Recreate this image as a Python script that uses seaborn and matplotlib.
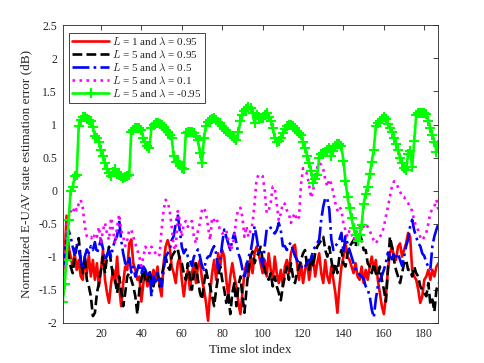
import numpy as np
import pandas as pd
import seaborn as sns
import matplotlib
matplotlib.use("Agg")
import matplotlib.pyplot as plt

# ---------------- data ----------------
slots = list(range(1, 188))

green = [-1.69, -1.42, -1.05, -0.45, 0.00, 0.05, 0.22, 0.24, 0.98, 1.07,
         1.11, 1.11, 1.09, 1.07, 1.05, 0.96, 0.83, 0.80, 0.73, 0.61,
         0.53, 0.42, 0.33, 0.27, 0.22, 0.28, 0.32, 0.25, 0.23, 0.22,
         0.19, 0.20, 0.22, 0.24, 0.88, 0.91, 0.94, 0.95, 0.95, 0.92,
         0.80, 0.73, 0.68, 0.65, 0.95, 1.00, 1.02, 1.02, 1.01, 0.99,
         0.96, 0.92, 0.88, 0.84, 0.80, 0.52, 0.43, 0.44, 0.38, 0.34,
         0.32, 0.87, 0.89, 0.88, 0.88, 0.87, 0.83, 0.76, 0.57, 0.42,
         0.80, 0.98, 1.04, 1.07, 1.09, 1.10, 1.07, 1.04, 1.02, 0.97,
         0.93, 0.90, 0.88, 0.85, 0.83, 0.79, 0.77, 0.88, 1.05, 1.15,
         1.20, 1.24, 1.26, 1.25, 1.17, 1.02, 1.14, 1.12, 1.10, 1.10,
         1.14, 1.17, 1.12, 1.06, 0.95, 0.80, 0.74, 0.75, 0.80, 0.87,
         0.93, 0.97, 0.99, 1.00, 0.98, 0.95, 0.90, 0.87, 0.84, 0.74,
         0.64, 0.53, 0.42, 0.30, 0.12, 0.17, 0.24, 0.50, 0.55, 0.57,
         0.59, 0.62, 0.65, 0.53, 0.60, 0.67, 0.71, 0.70, 0.67, 0.45,
         0.15, -0.10, -0.27, -0.42, -0.57, -0.68, -0.76, -0.68, -0.52, -0.20,
         -0.05, 0.06, 0.25, 0.43, 0.62, 0.97, 1.02, 1.05, 1.09, 1.11,
         1.08, 1.01, 0.95, 0.88, 0.80, 0.71, 0.62, 0.50, 0.42, 0.34,
         0.31, 0.55, 0.60, 0.35, 0.75, 1.14, 1.17, 1.18, 1.18, 1.17,
         1.16, 1.06, 0.95, 0.84, 0.74, 0.59, 0.69]

red = [-1.30, -1.00, -0.38, -0.85, -1.00, -1.15, -0.95, -1.20, -1.05, -1.30,
       -1.35, -1.00, -1.25, -0.98, -1.30, -1.05, -1.35, -1.10, -1.45, -1.20,
       -0.90, -1.35, -1.55, -1.70, -1.40, -1.20, -1.40, -1.00, -1.45, -1.75,
       -1.40, -1.15, -1.20, -0.80, -0.74, -1.10, -1.20, -1.35, -1.30, -1.68,
       -1.40, -1.25, -1.45, -1.30, -1.40, -1.20, -1.35, -1.15, -1.45, -1.60,
       -1.10, -0.85, -0.75, -0.85, -1.15, -1.25, -1.40, -1.10, -1.00, -1.35,
       -1.60, -1.35, -1.20, -1.50, -1.25, -1.10, -1.40, -1.15, -1.05, -1.35,
       -1.50, -1.70, -1.97, -1.55, -1.25, -1.05, -1.35, -0.95, -1.15, -0.90,
       -1.00, -1.35, -1.60, -1.30, -1.10, -1.30, -1.45, -1.70, -1.87, -1.55,
       -1.25, -1.10, -1.30, -1.00, -1.25, -0.95, -0.85, -0.95, -1.10, -1.25,
       -1.05, -1.30, -0.95, -1.20, -1.35, -1.00, -1.25, -1.40, -1.20, -1.45,
       -1.15, -1.05, -1.25, -0.95, -0.85, -0.82, -1.10, -1.35, -1.10, -1.40,
       -1.20, -1.05, -1.35, -1.15, -1.00, -1.30, -1.10, -0.95, -1.25, -1.40,
       -1.05, -1.30, -1.40, -1.15, -1.35, -1.55, -1.85, -1.45, -1.15, -1.00,
       -0.80, -1.00, -1.05, -1.15, -1.25, -1.10, -1.30, -1.35, -1.15, -1.40,
       -1.20, -1.35, -1.15, -1.00, -1.20, -1.05, -1.35, -1.55, -1.75, -1.87,
       -1.60, -1.20, -0.95, -0.85, -1.00, -1.05, -0.85, -0.80, -1.00, -0.90,
       -0.80, -0.64, -0.70, -1.20, -1.30, -1.35, -1.50, -1.70, -1.60, -1.35,
       -1.30, -1.20, -1.35, -1.20, -1.30, -1.15, -1.10]

black = [-1.10, -0.95, -0.80, -1.00, -1.15, -1.25, -1.00, -0.85, -0.72, -1.05,
         -1.25, -1.00, -1.35, -1.45, -1.60, -1.90, -1.85, -1.55, -1.40, -1.20,
         -1.00, -1.25, -1.00, -0.85, -1.10, -1.30, -1.35, -1.55, -1.30, -1.50,
         -1.75, -1.55, -1.30, -1.25, -1.35, -1.45, -1.60, -1.87, -1.50, -1.35,
         -1.20, -1.35, -1.40, -1.20, -1.35, -1.45, -1.30, -1.25, -1.45, -1.30,
         -1.15, -1.00, -1.15, -1.20, -1.00, -0.95, -0.90, -0.88, -1.05, -1.10,
         -1.25, -1.35, -1.10, -1.30, -1.50, -1.25, -1.10, -1.35, -1.55, -1.65,
         -1.40, -1.20, -1.35, -1.45, -1.60, -1.75, -1.50, -1.30, -1.15, -1.35,
         -1.50, -1.70, -1.55, -1.87, -1.55, -1.40, -1.75, -1.45, -1.30, -1.60,
         -1.85, -1.50, -1.20, -1.00, -0.92, -1.10, -1.00, -0.95, -0.85, -1.05,
         -1.20, -1.30, -1.35, -1.25, -1.45, -1.30, -1.45, -1.55, -1.66, -1.45,
         -1.30, -1.15, -1.35, -1.10, -1.30, -1.40, -1.25, -1.15, -1.05, -0.95,
         -0.90, -1.15, -1.20, -1.00, -1.15, -0.95, -0.85, -0.80, -0.75, -0.70,
         -0.90, -1.00, -0.85, -1.05, -1.25, -1.10, -1.25, -1.00, -0.90, -1.10,
         -1.15, -0.95, -0.85, -0.80, -0.75, -0.85, -0.70, -0.64, -0.75, -0.90,
         -0.90, -1.10, -1.15, -1.25, -1.10, -1.25, -1.30, -1.15, -1.35, -1.50,
         -1.68, -1.20, -0.70, -0.85, -1.05, -1.20, -1.30, -1.40, -1.25, -1.10,
         -1.05, -1.20, -1.20, -1.30, -1.15, -1.25, -1.30, -1.45, -1.50, -1.55,
         -1.60, -1.40, -1.72, -1.65, -1.83, -1.50, -1.40]

blue = [-1.20, -1.00, -0.75, -0.60, -0.70, -0.85, -0.97, -0.80, -0.90, -1.05,
        -1.19, -1.00, -0.89, -0.95, -0.84, -0.90, -0.78, -0.95, -0.85, -0.74,
        -0.88, -1.05, -0.99, -0.90, -1.00, -0.85, -0.75, -0.69, -0.44, -0.75,
        -0.95, -1.10, -1.14, -1.00, -1.24, -1.15, -1.30, -1.20, -1.10, -1.25,
        -1.15, -1.20, -1.30, -1.25, -1.60, -1.30, -1.38, -1.25, -1.35, -1.45,
        -1.20, -1.00, -0.95, -0.90, -0.75, -0.69, -0.50, -0.36, -0.60, -0.85,
        -0.95, -0.89, -1.00, -1.05, -1.14, -1.00, -0.95, -0.89, -1.00, -1.14,
        -1.20, -1.05, -1.00, -0.99, -0.90, -0.84, -0.95, -1.19, -1.05, -0.80,
        -0.59, -0.70, -0.80, -0.90, -0.75, -0.64, -0.80, -0.95, -1.04, -1.19,
        -1.34, -1.15, -1.00, -0.94, -0.75, -0.54, -0.70, -0.90, -1.00, -1.14,
        -0.85, -0.59, -0.60, -0.56, -0.62, -0.65, -0.60, -0.49, -0.60, -0.84,
        -0.84, -0.90, -0.82, -0.79, -0.90, -0.99, -1.05, -1.10, -1.14, -1.19,
        -1.15, -1.10, -1.05, -1.04, -0.90, -0.85, -0.80, -0.74, -0.44, -0.24,
        -0.11, -0.12, -0.29, -0.74, -0.90, -0.84, -0.80, -0.74, -0.64, -0.94,
        -0.69, -0.80, -0.90, -1.00, -1.10, -1.19, -1.20, -1.28, -1.30, -1.34,
        -1.45, -1.50, -1.60, -1.80, -1.92, -1.65, -1.45, -1.35, -1.29, -1.20,
        -1.09, -0.94, -1.00, -1.04, -0.94, -1.00, -0.95, -1.05, -1.14, -1.00,
        -0.84, -0.74, -0.54, -0.44, -0.60, -0.70, -0.80, -0.84, -0.95, -0.99,
        -1.09, -1.15, -1.19, -0.84, -0.69, -0.59, -0.50]

magenta = [-1.80, -1.20, -0.54, -0.40, -0.31, -0.35, -0.24, -0.30, -0.20, -0.14,
           -0.26, -0.54, -0.69, -0.72, -0.70, -0.75, -0.65, -0.70, -0.55, -0.80,
           -0.60, -0.49, -0.65, -0.75, -0.41, -0.60, -0.80, -0.55, -0.36, -0.60,
           -0.70, -0.84, -0.75, -0.60, -0.59, -0.70, -0.80, -0.90, -1.00, -1.14,
           -1.00, -0.85, -0.90, -0.95, -0.85, -0.90, -0.95, -1.00, -0.97, -0.60,
           -0.30, -0.14, -0.17, -0.30, -0.55, -0.85, -0.90, -0.31, -0.45, -0.70,
           -0.50, -0.46, -0.55, -0.50, -0.46, -0.70, -0.80, -0.60, -0.49, -0.29,
           -0.26, -0.35, -0.55, -0.75, -0.41, -0.45, -0.41, -0.50, -0.60, -0.65,
           -0.64, -0.60, -0.75, -0.90, -0.85, -0.70, -0.40, -0.29, -0.26, -0.40,
           -0.70, -0.54, -0.70, -0.60, -0.50, -0.20, 0.17, 0.24, 0.24, 0.22,
           0.00, -0.34, -0.30, -0.19, 0.06, 0.04, -0.20, -0.45, -0.35, -0.19,
           -0.20, -0.30, -0.35, -0.49, -0.40, -0.34, -0.45, -0.40, 0.10, 0.34,
           0.30, 0.25, 0.08, -0.11, 0.00, 0.22, 0.35, 0.42, 0.39, 0.32,
           0.17, 0.06, 0.17, 0.10, -0.04, -0.19, -0.30, -0.24, -0.30, -0.50,
           -0.60, -0.70, -0.60, -0.65, -0.75, -0.65, -0.60, -0.55, -0.60, -0.54,
           -0.50, -0.55, -0.60, -0.70, -0.75, -0.80, -0.75, -0.70, -0.65, -0.55,
           -0.39, -0.25, -0.09, 0.06, 0.14, 0.12, 0.05, -0.01, -0.09, -0.10,
           -0.15, -0.19, -0.25, -0.31, -0.45, -0.55, -0.60, -0.70, -0.75, -0.70,
           -0.64, -0.50, -0.34, -0.28, -0.24, -0.14, -0.30]

labels = [r"$L$ = 1 and $\lambda$ = 0.95",
          r"$L$ = 5 and $\lambda$ = 0.95",
          r"$L$ = 5 and $\lambda$ = 0.5",
          r"$L$ = 5 and $\lambda$ = 0.1",
          r"$L$ = 5 and $\lambda$ = -0.95"]

x_ticks = [20, 40, 60, 80, 100, 120, 140, 160, 180]
y_ticks = [-2, -1.5, -1, -0.5, 0, 0.5, 1, 1.5, 2, 2.5]
y_ticklabels = ["-2", "-1.5", "-1", "-0.5", "0", "0.5", "1", "1.5", "2", "2.5"]

# ---------------- style ----------------
sns.set_style("white")
plt.rcParams["font.family"] = ["Liberation Serif", "DejaVu Serif"]
plt.rcParams["mathtext.fontset"] = "cm"
plt.rcParams["axes.unicode_minus"] = False

fig = plt.figure(figsize=(4.85, 3.63), dpi=100)
ax = fig.add_axes([0.129, 0.111, 0.775, 0.819])

series = [
    (red, "#ff0000", "-", None),
    (black, "#000000", "--", None),
    (blue, "#0000ff", "-.", None),
    (magenta, "#ff00ff", ":", None),
    (green, "#00ff00", "-", "+"),
]

for (vals, col, ls, mk), lab in zip(series, labels):
    df = pd.DataFrame({"slot": slots, "err": vals})
    kw = dict(color=col, linestyle=ls, linewidth=1.9, label=lab)
    if mk:
        kw.update(marker=mk, markersize=6.5, markeredgewidth=1.5,
                  markeredgecolor=col)
    sns.lineplot(data=df, x="slot", y="err", ax=ax, **kw)

ax.set_xlim(1, 187)
ax.set_ylim(-2, 2.5)
ax.set_xticks(x_ticks)
ax.set_yticks(y_ticks)
ax.set_yticklabels(y_ticklabels)
ax.tick_params(direction="in", length=3.5, width=0.6, colors="#262626",
               labelsize=8.5, top=True, right=True, labelcolor="#262626",
               pad=4)
for s in ax.spines.values():
    s.set_color("#262626")
    s.set_linewidth(0.6)

ax.set_xlabel("Time slot index", fontsize=9.5, color="#262626", labelpad=3)
ax.set_ylabel("Normalized E-UAV state estimation error (dB)", fontsize=9.5,
              color="#262626", labelpad=4)

leg = ax.legend(loc="upper left", bbox_to_anchor=(0.017, 0.975),
                borderaxespad=0, fontsize=8, frameon=True, fancybox=False,
                framealpha=1, edgecolor="#262626", handlelength=3.3,
                handletextpad=0.3, labelspacing=0.15, borderpad=0.3,
                numpoints=1)
leg.get_frame().set_linewidth(0.6)

fig.savefig("out.png", dpi=100)
